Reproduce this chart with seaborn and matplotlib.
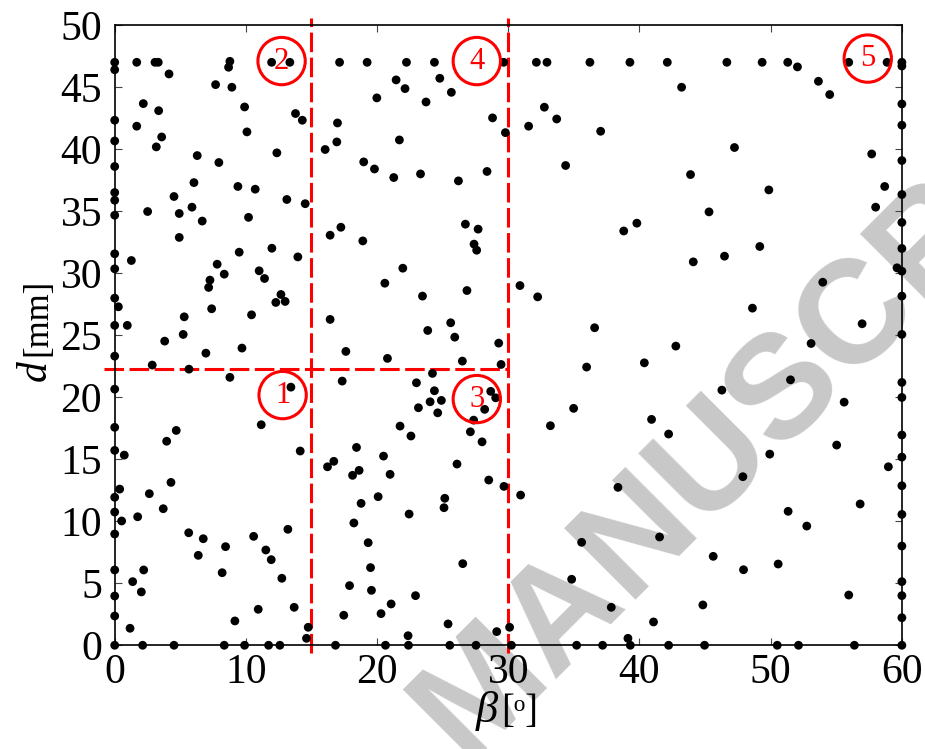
import matplotlib
matplotlib.use('Agg')
import matplotlib.pyplot as plt
import seaborn as sns
import pandas as pd

# ---- data ----
zone1_beta = [8.78, 0, 13.43, 0, 4.69, 11.17, 3.96, 0, 0.73, 14.14, 0.38, 0, 4.29, 2.64, 3.7, 0, 0.53, 1.75,
              0, 5.64, 6.75, 6.37, 8.45, 10.59, 13.2, 11.52, 11.93, 8.19, 12.74, 0, 2.21, 1.37, 2.03, 0, 0,
              10.94, 13.68, 9.16, 1.17, 14.75, 14.62, 0, 2.13, 4.52, 8.35, 9.9, 11.73, 12.59]
zone1_d = [21.6, 20.65, 20.81, 17.57, 17.32, 17.78, 16.45, 15.71, 15.33, 15.66, 12.59, 11.93, 13.13, 12.22, 11.01,
           10.74, 10.02, 10.36, 8.97, 9.07, 8.59, 7.25, 7.95, 8.78, 9.35, 7.68, 6.9, 5.85, 5.4, 6.07, 6.07, 5.13,
           4.3, 3.97, 2.36, 2.9, 3.06, 1.96, 1.37, 1.45, 0.56, 0, 0, 0, 0, 0, 0, 0]

zone2_beta = [0, 0, 1.68, 3.07, 3.32, 4.14, 8.78, 8.68, 11.96, 13.35, 7.69, 8.93, 2.18, 3.35, 9.9, 13.78, 14.3, 0,
              1.68, 0, 3.58, 3.17, 10.08, 6.29, 7.94, 12.36, 0, 6.04, 9.39, 10.71, 0, 0, 4.52, 13.12, 14.52, 5.89,
              0, 2.51, 4.92, 6.67, 10.2, 4.92, 0, 0, 1.27, 9.49, 11.98, 13.96, 7.81, 8.35, 7.26, 7.16, 11.01, 11.42,
              12.67, 12.28, 12.99, 0, 0.28, 0, 0.96, 5.3, 7.39, 10.43, 5.22, 3.81, 0, 6.95, 9.7, 2.86, 5.66]
zone2_d = [47.0, 46.4, 47.0, 47.0, 47.0, 46.06, 47.08, 46.6, 47.0, 47.0, 45.2, 44.99, 43.67, 43.1, 43.4, 42.87,
           42.33, 42.33, 41.85, 40.66, 40.98, 40.18, 41.39, 39.48, 38.92, 39.7, 38.6, 37.3, 36.99, 36.77, 36.5,
           35.88, 36.18, 35.94, 35.6, 35.32, 34.67, 34.97, 34.81, 34.2, 34.5, 32.88, 31.56, 30.35, 31.02, 31.69,
           32.01, 31.31, 30.72, 29.92, 29.44, 28.85, 30.19, 29.57, 28.28, 27.64, 27.72, 27.99, 27.29, 25.79, 25.79,
           26.48, 27.13, 26.64, 25.06, 24.52, 23.31, 23.55, 23.96, 22.59, 22.26]

zone3_beta = [24.22, 17.34, 23.0, 24.37, 28.66, 29.04, 24.04, 24.9, 23.15, 24.62, 28.2, 27.36, 21.75, 27.11, 22.58,
              28.0, 18.43, 20.49, 16.22, 16.7, 18.13, 18.63, 20.99, 26.09, 28.51, 29.67, 20.08, 18.78, 25.16, 25.1,
              22.44, 18.23, 19.32, 26.53, 19.5, 17.9, 19.57, 22.93, 21.07, 17.46, 20.3, 25.41, 29.12, 22.36, 16.83,
              20.64, 22.39, 25.54, 27.54]
zone3_d = [21.92, 21.3, 21.16, 20.52, 20.47, 19.95, 19.63, 19.74, 19.15, 18.74, 19.02, 18.15, 17.67, 17.21, 16.87,
           16.4, 15.95, 15.25, 14.39, 14.83, 13.7, 14.1, 13.78, 14.61, 13.32, 12.81, 11.98, 11.44, 11.85, 11.09,
           10.58, 9.86, 8.27, 6.58, 6.26, 4.81, 4.43, 4.0, 3.33, 2.42, 2.55, 1.72, 1.1, 0.77, 0, 0, 0, 0, 0]

zone4_beta = [17.14, 19.24, 22.24, 24.37, 29.65, 21.45, 24.78, 22.13, 25.66, 19.98, 23.73, 16.98, 28.8, 29.78,
              16.93, 16.04, 21.7, 18.98, 19.8, 21.27, 23.31, 26.2, 28.38, 17.24, 26.73, 27.7, 16.42, 18.91, 27.39,
              27.59, 21.96, 20.59, 23.46, 26.85, 16.42, 23.86, 25.61, 25.92, 29.27, 17.62, 20.79, 26.5, 29.45]
zone4_d = [47, 47, 47, 47, 47, 45.58, 45.71, 44.88, 44.58, 44.13, 43.8, 42.11, 42.52, 41.33, 40.58, 39.97, 40.74,
           38.97, 38.4, 37.71, 38.0, 37.44, 38.2, 33.7, 33.95, 33.55, 33.06, 32.6, 32.34, 31.85, 30.4, 29.19, 28.15,
           28.6, 26.27, 25.38, 26.0, 24.84, 24.36, 23.69, 23.13, 22.91, 22.64]

zone5_beta = [32.14, 32.95, 36.22, 39.27, 42.12, 43.21, 32.75, 33.69, 31.55, 37.04, 34.37, 43.89, 45.3, 39.8, 38.8,
              46.66, 49.35, 51.3, 52.04, 55.95, 58.87, 60, 60, 53.64, 54.5, 60, 60, 47.24, 57.7, 60, 58.69, 49.86,
              60, 58.0, 60, 44.1, 30.89, 32.24, 36.58, 42.77, 35.97, 40.37, 34.98, 33.21, 40.92, 42.22, 46.48,
              49.17, 60, 59.63, 60, 53.97, 60, 48.61, 56.97, 60, 53.08, 51.51, 46.28, 60, 60, 55.6, 60, 30.1,
              30.94, 38.36, 35.59, 41.53, 34.83, 37.85, 44.83, 41.07, 39.12, 30.24, 35.21, 37.19, 39.3, 42.22,
              44.96, 55.03, 49.93, 60, 58.97, 47.88, 60, 56.82, 60, 51.33, 52.75, 60, 45.62, 47.93, 50.57, 60,
              55.95, 60, 60, 50.5, 52.12, 56.38, 60]
zone5_d = [47, 47, 47, 47, 47, 44.99, 43.38, 42.43, 41.85, 41.44, 38.68, 37.95, 34.94, 34.03, 33.4, 47, 47, 47,
           46.63, 47, 47, 47, 46.7, 45.47, 44.4, 43.64, 41.93, 40.13, 39.61, 39.08, 36.99, 36.71, 36.34, 35.32,
           34.09, 30.91, 29.0, 28.09, 25.6, 24.12, 22.43, 22.77, 19.1, 17.7, 18.21, 17.03, 31.37, 32.15, 31.99,
           30.43, 30.16, 29.27, 28.15, 27.18, 25.92, 25.06, 24.33, 21.4, 20.57, 21.19, 19.98, 19.6, 16.95, 1.45,
           12.11, 12.73, 8.3, 8.73, 5.32, 3.06, 3.25, 1.88, 0.56, 0, 0, 0, 0, 0, 0, 16.14, 15.41, 15.17, 14.39,
           13.59, 12.86, 11.39, 10.55, 10.8, 9.61, 8.0, 7.17, 6.09, 6.55, 5.13, 4.05, 4.0, 2.22, 0, 0, 0, 0]

boundary_beta = [15, 30]
boundary_d = 22.3
zone_labels = ['1', '2', '3', '4', '5']
zone_label_beta = [12.8, 12.72, 27.6, 27.6, 57.4]
zone_label_d = [20.17, 47.1, 19.85, 47.1, 47.3]
x_ticks = [0, 10, 20, 30, 40, 50, 60]
y_ticks = [0, 5, 10, 15, 20, 25, 30, 35, 40, 45, 50]
x_symbol, x_unit = '\u03b2', '[\u1d52]'
y_symbol, y_unit = 'd', '[mm]'

# ---- build table ----
beta_all = zone1_beta + zone2_beta + zone3_beta + zone4_beta + zone5_beta
d_all = zone1_d + zone2_d + zone3_d + zone4_d + zone5_d
df = pd.DataFrame({'beta': beta_all, 'd': d_all})

sns.set_style('ticks')
plt.rcParams['font.family'] = ['Liberation Serif', 'DejaVu Serif']
plt.rcParams['mathtext.fontset'] = 'stix'
plt.rcParams['text.color'] = 'black'

fig = plt.figure(figsize=(9.25, 7.49), dpi=100)
ax = fig.add_axes([0.124, 0.1385, 0.851, 0.828])
ax.set_facecolor('none')

# watermark (behind everything)
ax.text(464 / 925, 1 - 761 / 749, 'MANUSCRIPT', transform=fig.transFigure, rotation=45,
        rotation_mode='anchor', ha='left', va='baseline', fontsize=106, fontweight='bold',
        family='Liberation Sans', color='#c8c8c8', zorder=0.5, clip_on=False)

sns.scatterplot(data=df, x='beta', y='d', color='black', s=40, edgecolor='none', ax=ax,
                zorder=3, clip_on=False, legend=False)
ax.set_xlabel('')
ax.set_ylabel('')

dash = (6.4, 1.8)
for bx in boundary_beta:
    ax.axvline(bx, ymin=-0.012, ymax=1.012, color='red', lw=2.2, dashes=dash, clip_on=False, zorder=2)
ax.axhline(boundary_d, xmin=-0.014, xmax=0.5, color='red', lw=2.2, dashes=dash, clip_on=False, zorder=2)

for lab, bx, by in zip(zone_labels, zone_label_beta, zone_label_d):
    ax.text(bx, by, lab, color='red', fontsize=22, ha='center', va='center', zorder=4,
            bbox=dict(boxstyle='circle,pad=0.3', fc='none', ec='red', lw=2.2))

ax.set_xlim(0, 60)
ax.set_ylim(0, 50)
ax.set_xticks(x_ticks)
ax.set_yticks(y_ticks)
ax.tick_params(direction='in', length=5, width=0.8, top=True, right=True, labelsize=30,
               color='#444444', labelcolor='black')
ax.tick_params(axis='x', pad=6)
ax.tick_params(axis='y', pad=9)
for sp in ax.spines.values():
    sp.set_linewidth(1.2)
    sp.set_color('black')
    sp.set_zorder(2.5)

# axis labels: large italic symbol + unit
ax.text(0.487, -0.1237, x_symbol, transform=ax.transAxes, fontsize=32, style='italic',
        ha='right', va='baseline')
ax.text(0.491, -0.1237, x_unit, transform=ax.transAxes, fontsize=28, ha='left', va='baseline')
ax.text(-0.087, 0.46, y_symbol, transform=ax.transAxes, fontsize=30, style='italic', rotation=90,
        rotation_mode='anchor', ha='right', va='baseline')
ax.text(-0.087, 0.466, y_unit, transform=ax.transAxes, fontsize=25, rotation=90,
        rotation_mode='anchor', ha='left', va='baseline')

fig.savefig('out.png', dpi=100)
